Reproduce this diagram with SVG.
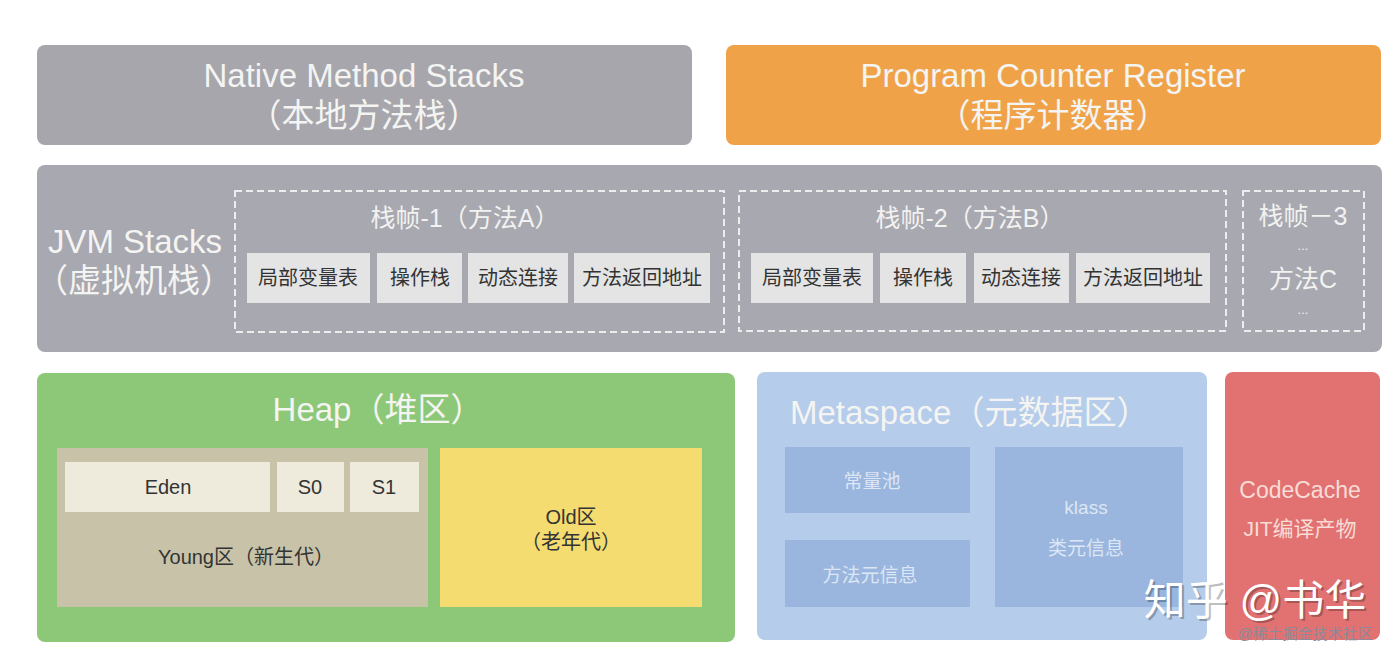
<svg xmlns="http://www.w3.org/2000/svg" width="1400" height="657" viewBox="0 0 1400 657">
<style>
text{font-family:"Liberation Sans","Noto Sans CJK SC",sans-serif;text-anchor:middle}
.big{font-size:33px;fill:#F4F4F2}
.mid{font-size:25px;fill:#F2F2F0}
.cell{fill:#E4E4E4}
.ct{font-size:20px;fill:#333}
.dash{fill:none;stroke:#EDEDED;stroke-width:2;stroke-dasharray:7 4}
.hcell{fill:#EEEBDD}
.ht{font-size:20px;fill:#333}
.mbox{fill:#9AB6DE}
.mt{font-size:19px;fill:#DCE6F4}
.dots{font-size:13px;fill:#F2F2F0}
</style>
<rect width="1400" height="657" fill="#FFFFFF"/>
<g id="native">
<rect x="37" y="45" width="655" height="100" rx="8" fill="#A6A6AC"/>
<text class="big" x="364" y="87">Native Method Stacks</text>
<text class="big" x="364" y="127" font-size="28">（本地方法栈）</text>
</g>
<g id="pc">
<rect x="726" y="45" width="655" height="100" rx="8" fill="#F0A248"/>
<text class="big" x="1053" y="87" fill="#FBEBD4">Program Counter Register</text>
<text class="big" x="1053" y="127" fill="#FBEBD4" font-size="28">（程序计数器）</text>
</g>
<g id="jvm-stacks">
<rect x="37" y="165" width="1345" height="187" rx="8" fill="#A8A8B0"/>
<text class="big" x="135" y="253">JVM Stacks</text>
<text class="big" x="134" y="292" font-size="30">（虚拟机栈）</text>
</g>
<g id="frame1">
<rect class="dash" x="235" y="191" width="489" height="141"/>
<text class="mid" x="465" y="227">栈帧-1（方法A）</text>
<rect class="cell" x="247" y="253" width="123" height="50"/>
<text class="ct" x="308" y="285">局部变量表</text>
<rect class="cell" x="377" y="253" width="85" height="50"/>
<text class="ct" x="420" y="285">操作栈</text>
<rect class="cell" x="468" y="253" width="100" height="50"/>
<text class="ct" x="518" y="285">动态连接</text>
<rect class="cell" x="574" y="253" width="136" height="50"/>
<text class="ct" x="642" y="285">方法返回地址</text>
</g>
<g id="frame2">
<rect class="dash" x="739" y="191" width="487" height="140"/>
<text class="mid" x="970" y="227">栈帧-2（方法B）</text>
<rect class="cell" x="751" y="253" width="122" height="50"/>
<text class="ct" x="812" y="285">局部变量表</text>
<rect class="cell" x="880" y="253" width="86" height="50"/>
<text class="ct" x="923" y="285">操作栈</text>
<rect class="cell" x="974" y="253" width="95" height="50"/>
<text class="ct" x="1021" y="285">动态连接</text>
<rect class="cell" x="1076" y="253" width="134" height="50"/>
<text class="ct" x="1143" y="285">方法返回地址</text>
</g>
<g id="frame3">
<rect class="dash" x="1243" y="191" width="121" height="140"/>
<text class="mid" x="1303" y="225" font-size="24">栈帧－3</text>
<text class="dots" x="1303" y="250">...</text>
<text class="mid" x="1303" y="288" font-size="24">方法C</text>
<text class="dots" x="1303" y="314">...</text>
</g>
<g id="heap">
<rect x="37" y="373" width="698" height="269" rx="8" fill="#8DC878"/>
<text class="big" x="378" y="421" fill="#EEF6E4" font-size="31">Heap（堆区）</text>
</g>
<g id="young">
<rect x="57" y="448" width="371" height="159" fill="#C8C3A8"/>
<rect class="hcell" x="65" y="462" width="205" height="50"/>
<text class="ht" x="168" y="494">Eden</text>
<rect class="hcell" x="277" y="462" width="67" height="50"/>
<text class="ht" x="310" y="494">S0</text>
<rect class="hcell" x="350" y="462" width="69" height="50"/>
<text class="ht" x="384" y="494">S1</text>
<text class="ht" x="246" y="564" font-size="21">Young区（新生代）</text>
</g>
<g id="old">
<rect x="440" y="448" width="262" height="159" fill="#F4DC70"/>
<text class="ht" x="571" y="524">Old区</text>
<text class="ht" x="571" y="549">（老年代）</text>
</g>
<g id="metaspace">
<rect x="757" y="372" width="450" height="268" rx="8" fill="#B5CCEA"/>
<text class="big" x="790" y="424" fill="#E6EEF8" font-size="33" style="text-anchor:start">Metaspace（元数据区）</text>
</g>
<g id="constant-pool">
<rect class="mbox" x="785" y="447" width="185" height="66"/>
<text class="mt" x="872" y="488">常量池</text>
</g>
<g id="method-meta">
<rect class="mbox" x="785" y="540" width="185" height="67"/>
<text class="mt" x="870" y="582">方法元信息</text>
</g>
<g id="klass">
<rect class="mbox" x="995" y="447" width="188" height="160"/>
<text class="mt" x="1086" y="514">klass</text>
<text class="mt" x="1086" y="555">类元信息</text>
</g>
<g id="codecache">
<rect x="1225" y="372" width="155" height="268" rx="8" fill="#E27272"/>
<text x="1300" y="498" font-size="23" fill="#F8DCD6">CodeCache</text>
<text x="1300" y="536" font-size="21" fill="#F8DCD6">JIT编译产物</text>
</g>
<g id="connectors"></g>
<g id="watermark">
<text x="1257" y="617" font-size="42" fill="#000" opacity="0.25">知乎 @书华</text>
<text x="1255" y="615" font-size="42" fill="#FFFFFF">知乎 @书华</text>
<text x="1305" y="639" font-size="15" fill="#8A8A9A">@稀土掘金技术社区</text>
</g>
</svg>
